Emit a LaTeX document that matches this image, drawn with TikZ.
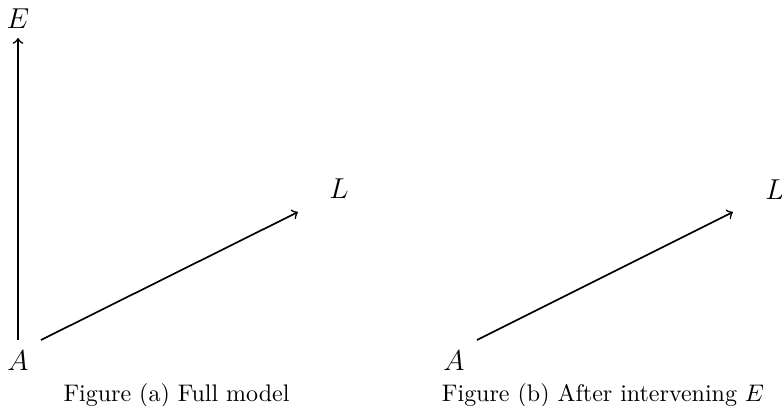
\documentclass[tikz,border=0pt]{standalone}
\begin{document}
\begin{tikzpicture}[x=0.4169pt,y=-0.4169pt,
  lbl/.style={anchor=base,inner sep=0pt,font=\large},
  captext/.style={anchor=base,inner sep=0pt},
  conn/.style={->,line width=0.7pt}]
\useasboundingbox (0,0) rectangle (782,406);
% panel (a)
\node[lbl] (E1) at (18,28) {$E$};
\node[lbl] (A1) at (18,370) {$A$};
\node[lbl] (L1) at (339,198) {$L$};
\draw[conn] ([shift={(0,-30)}]A1.base) -- ([shift={(0,10)}]E1.base);
\draw[conn] ([shift={(23,-30)}]A1.base) -- ([shift={(-41,14)}]L1.base);
\node[captext] (C1) at (176.5,401) {Figure (a) Full model};
% panel (b)
\node[lbl] (A2) at (454,370) {$A$};
\node[lbl] (L2) at (775,199) {$L$};
\draw[conn] ([shift={(23,-30)}]A2.base) -- ([shift={(-42,13)}]L2.base);
\node[captext] (C2) at (603,401) {Figure (b) After intervening $E$};
\end{tikzpicture}
\end{document}
